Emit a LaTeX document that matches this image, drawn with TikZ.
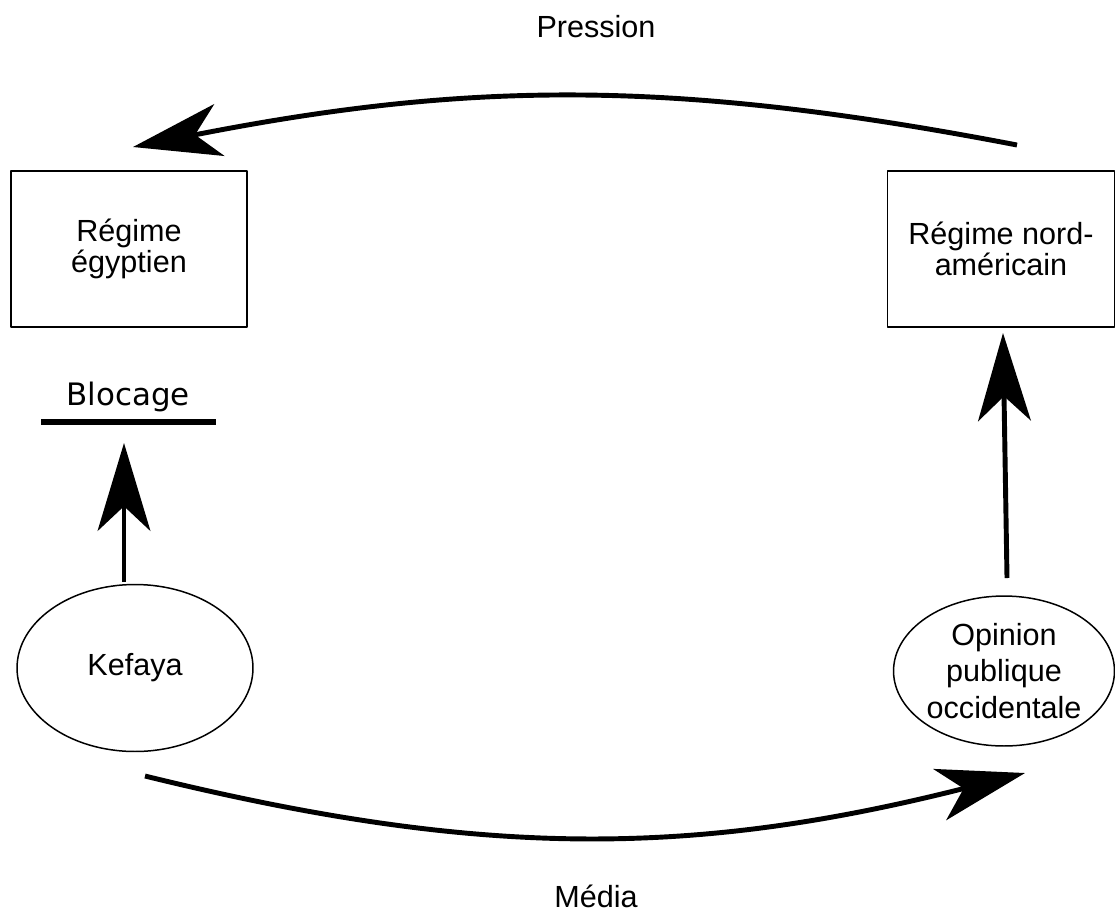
\documentclass[tikz,border=0pt]{standalone}
\usepackage{fontspec}
\setmainfont{Liberation Sans}
\newfontfamily\dejavu{DejaVu Sans}
\usetikzlibrary{arrows.meta,shapes.geometric}

\begin{document}
\begin{tikzpicture}[x=0.02cm,y=-0.02cm,line join=round,
    boite/.style={draw,line width=0.85pt,align=center,inner sep=0pt,
      font=\fontsize{17.4}{17.5}\selectfont},
    bulle/.style={draw,ellipse,line width=0.85pt,align=center,inner sep=0pt,
      font=\fontsize{17.4}{21}\selectfont},
    etiquette/.style={font=\fontsize{17.4}{17.5}\selectfont},
    fleche/.style={line width=2.8pt,-{Stealth[length=50pt,width=30pt,inset=14pt]}}]
  \useasboundingbox (0,0) rectangle (1115,917);
  % noeuds
  \node[boite,minimum width=4.72cm,minimum height=3.12cm] (egypte) at (129,249) {Régime\\égyptien};
  \node[boite,minimum width=4.54cm,minimum height=3.12cm] (usa) at (1001,249) {Régime nord-\\américain};
  \node[bulle,minimum width=4.72cm,minimum height=3.34cm] (kefaya) at (135,668) {Kefaya};
  \node[bulle,minimum width=4.42cm,minimum height=3.0cm] (opinion) at (1004,671) {Opinion\\publique\\occidentale};
  \node[etiquette] (pression) at (596,27) {Pression};
  \node[etiquette] (media) at (596,896) {Média};
  \node[font=\dejavu\fontsize{17.6}{20}\selectfont] (blocage) at (128,397) {Blocage};
  % points d'attache
  \coordinate (B0) at (41,422);
  \coordinate (B1) at (216,422);
  \coordinate (P0) at (1017,145);
  \coordinate (P1) at (133,147);
  \coordinate (M0) at (145,776);
  \coordinate (M1) at (1025,773);
  \coordinate (K0) at (124,582);
  \coordinate (K1) at (124,443);
  \coordinate (O0) at (1007,578);
  \coordinate (O1) at (1003,333);
  % barre et fleches
  \draw[line width=3.4pt] (B0) -- (B1);
  \draw[fleche] (P0) to[bend right=11] (P1);
  \draw[fleche] (M0) to[bend right=14] (M1);
  \draw[fleche] (K0) -- (K1);
  \draw[fleche] (O0) -- (O1);
\end{tikzpicture}
\end{document}
